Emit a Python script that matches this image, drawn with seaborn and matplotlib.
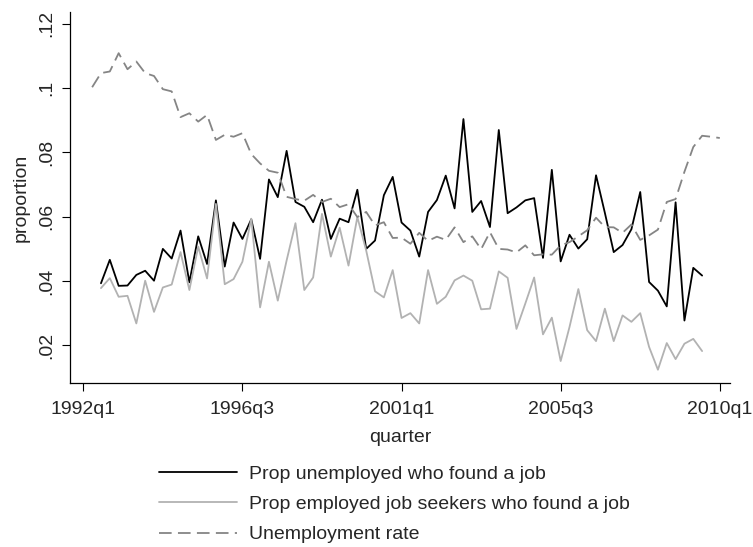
import numpy as np
import pandas as pd
import matplotlib.pyplot as plt
import seaborn as sns

# quarters covered by each series
found_start, found_end = "1992Q3", "2009Q3"
urate_start, urate_end = "1992Q2", "2010Q1"

# prop of unemployed who found a job
prop_unemp_found = [
  0.0393, 0.0466, 0.0385, 0.0386, 0.0419, 0.0432, 0.0401, 0.0500, 0.0470, 0.0557,
  0.0396, 0.0539, 0.0453, 0.0651, 0.0445, 0.0582, 0.0531, 0.0592, 0.0469, 0.0716,
  0.0661, 0.0805, 0.0646, 0.0631, 0.0583, 0.0653, 0.0531, 0.0594, 0.0583, 0.0684,
  0.0500, 0.0526, 0.0667, 0.0724, 0.0582, 0.0557, 0.0476, 0.0615, 0.0652, 0.0728,
  0.0626, 0.0904, 0.0615, 0.0649, 0.0568, 0.0870, 0.0611, 0.0629, 0.0651, 0.0658,
  0.0472, 0.0746, 0.0461, 0.0544, 0.0501, 0.0530, 0.0729, 0.0612, 0.0490, 0.0512,
  0.0561, 0.0677, 0.0397, 0.0370, 0.0321, 0.0645, 0.0277, 0.0441, 0.0417,
]

# prop of employed job seekers who found a job
prop_emp_found = [
  0.0378, 0.0409, 0.0351, 0.0354, 0.0268, 0.0401, 0.0304, 0.0380, 0.0389, 0.0490,
  0.0372, 0.0507, 0.0408, 0.0640, 0.0390, 0.0406, 0.0460, 0.0594, 0.0318, 0.0460,
  0.0339, 0.0464, 0.0580, 0.0372, 0.0411, 0.0609, 0.0476, 0.0566, 0.0448, 0.0599,
  0.0495, 0.0368, 0.0349, 0.0434, 0.0285, 0.0300, 0.0268, 0.0434, 0.0329, 0.0351,
  0.0402, 0.0417, 0.0401, 0.0312, 0.0314, 0.0430, 0.0410, 0.0251, 0.0330, 0.0411,
  0.0234, 0.0286, 0.0151, 0.0257, 0.0375, 0.0247, 0.0213, 0.0314, 0.0213, 0.0293,
  0.0273, 0.0300, 0.0195, 0.0124, 0.0207, 0.0157, 0.0205, 0.0220, 0.0182,
]

# unemployment rate
urate = [
  0.1003, 0.1047, 0.1052, 0.1109, 0.1059, 0.1083, 0.1047, 0.1038, 0.0997, 0.0990,
  0.0910, 0.0922, 0.0896, 0.0917, 0.0839, 0.0855, 0.0849, 0.0860, 0.0795, 0.0766,
  0.0743, 0.0737, 0.0662, 0.0655, 0.0650, 0.0668, 0.0646, 0.0656, 0.0630, 0.0639,
  0.0599, 0.0615, 0.0573, 0.0583, 0.0534, 0.0535, 0.0516, 0.0550, 0.0525, 0.0538,
  0.0528, 0.0567, 0.0521, 0.0539, 0.0499, 0.0552, 0.0500, 0.0498, 0.0489, 0.0511,
  0.0480, 0.0483, 0.0482, 0.0511, 0.0521, 0.0539, 0.0558, 0.0597, 0.0568, 0.0567,
  0.0550, 0.0576, 0.0528, 0.0542, 0.0560, 0.0646, 0.0655, 0.0740, 0.0817, 0.0852,
  0.0849, 0.0845,
]

xtick_labels = ["1992q1", "1996q3", "2001q1", "2005q3", "2010q1"]
ytick_vals = [0.02, 0.04, 0.06, 0.08, 0.10, 0.12]
ytick_labels = [".02", ".04", ".06", ".08", ".1", ".12"]
labels = [
  "Prop unemployed who found a job",
  "Prop employed job seekers who found a job",
  "Unemployment rate",
]

FS = 14

def qindex(p):
  # quarters since 1992q1
  return (p.year - 1992) * 4 + p.quarter - 1

q_found = pd.period_range(found_start, found_end, freq="Q")
q_urate = pd.period_range(urate_start, urate_end, freq="Q")
df_found = pd.DataFrame({
  "q": [qindex(p) for p in q_found],
  "unemp": prop_unemp_found,
  "emp": prop_emp_found,
})
df_urate = pd.DataFrame({"q": [qindex(p) for p in q_urate], "urate": urate})

sns.set_style("ticks")
plt.rcParams["font.family"] = ["Liberation Sans", "DejaVu Sans"]

fig = plt.figure(figsize=(7.53, 5.47), dpi=100)
ax = fig.add_axes([0.093, 0.300, 0.877, 0.678])

sns.lineplot(data=df_found, x="q", y="unemp", color="black", lw=1.3, ax=ax)
sns.lineplot(data=df_found, x="q", y="emp", color="#b2b2b2", lw=1.3, ax=ax)
sns.lineplot(data=df_urate, x="q", y="urate", color="#858585", lw=1.3, ax=ax)
ax.lines[-1].set_dashes((7, 3.5))

xticks = [qindex(pd.Period(s.replace("q", "Q"), freq="Q")) for s in xtick_labels]
ax.set_xticks(xticks)
ax.set_xticklabels(xtick_labels, fontsize=FS)
ax.set_yticks(ytick_vals)
ax.set_yticklabels(ytick_labels, fontsize=FS, rotation=90, va="center")
ax.set_xlim(-1.5, 73.2)
ax.set_ylim(0.0083, 0.1237)
ax.tick_params(length=6, width=0.8, color="black")
ax.tick_params(axis="x", pad=7)
ax.tick_params(axis="y", pad=5)
ax.set_xlabel("quarter", fontsize=FS, labelpad=8)
ax.set_ylabel("proportion", fontsize=FS, labelpad=6)
sns.despine(ax=ax)
for s in ["left", "bottom"]:
  ax.spines[s].set_color("black")
  ax.spines[s].set_linewidth(0.9)

# legend in the bottom band, one column
fig.legend(ax.lines[:3], labels, loc="center", bbox_to_anchor=(0.524, 0.078),
           frameon=False, fontsize=FS, handlelength=4.0, handletextpad=0.62,
           labelspacing=0.65, borderpad=0)

fig.savefig("out.png", dpi=100)
